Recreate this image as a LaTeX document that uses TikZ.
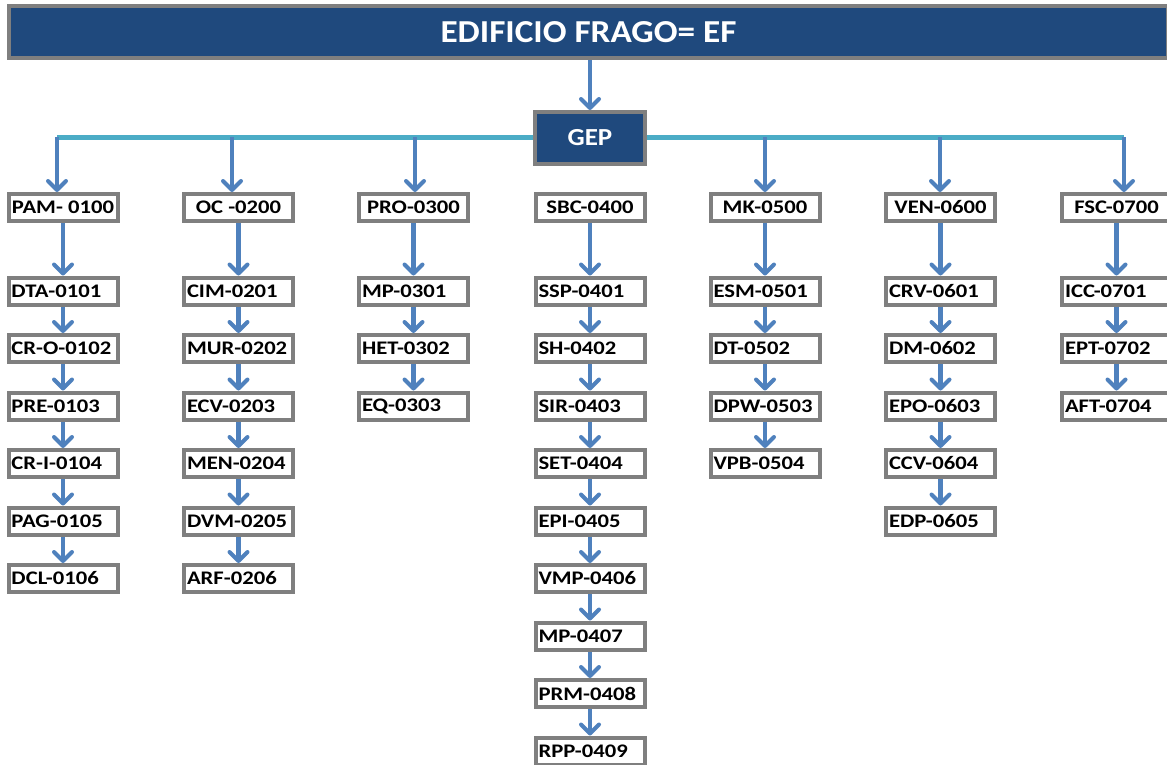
\documentclass[tikz,border=0pt]{standalone}
\usepackage{fontspec}
\setmainfont{Carlito}[FakeStretch=1.1]
\newfontfamily\boxfont{Carlito}[FakeStretch=1.18]
\usetikzlibrary{arrows.meta}

\definecolor{framegray}{HTML}{7F7F7F}
\definecolor{navy}{HTML}{1F497D}
\definecolor{arrowblue}{HTML}{4F81BD}
\definecolor{buscyan}{HTML}{4BACC6}

\tikzset{
  headbox/.style={rectangle, draw=framegray, line width=4pt, fill=white,
    minimum width=109pt, minimum height=27pt, inner sep=0pt,
    font=\boxfont\fontsize{19.2}{21}\selectfont\bfseries},
  subbox/.style={headbox, text width=103pt, align=left, inner xsep=3pt},
  navybox/.style={rectangle, draw=framegray, line width=4pt, fill=navy,
    text=white, inner sep=0pt},
  arr/.style={draw=arrowblue, line width=4.5pt,
    -{Straight Barb[length=9pt,width=18pt,line width=4pt,round]}},
  bus/.style={draw=buscyan, line width=5pt}
}

% one column: its head box, then the chain of sub-boxes below it
\newcommand\colchain[4]{%
  \node[headbox] (#1-0) at (#2,207.5) {#3};
  \foreach \lbl [count=\k, remember=\k as \prev (initially 0)] in {#4} {
    \node[subbox] (#1-\k) at (#2,{291+(\k-1)*57.5}) {\lbl};
    \draw[arr] (#1-\prev.south) -- (#1-\k.north);
  }%
}

\begin{document}
\begin{tikzpicture}[x=1pt,y=-1pt]
\useasboundingbox (0,0) rectangle (1167,764);

% title bar and the group box under it
\node[navybox, minimum width=1159pt, minimum height=52pt,
  font=\fontsize{32}{36}\selectfont\bfseries] (title) at (588.5,32) {EDIFICIO FRAGO= EF};

% horizontal bus behind the group box
\coordinate (t1) at (57,137);
\coordinate (t2) at (232,137);
\coordinate (t3) at (415,137);
\coordinate (t5) at (765,137);
\coordinate (t6) at (940,137);
\coordinate (t7) at (1124,137);
\draw[bus] (t1) -- (t7);

\node[navybox, minimum width=110pt, minimum height=52pt,
  font=\fontsize{24.5}{28}\selectfont\bfseries] (gep) at (590,138) {GEP};
\draw[arr] (title.south -| gep.north) -- (gep.north);

% the seven columns
\colchain{c1}{63}{PAM- 0100}{DTA-0101,CR-O-0102,PRE-0103,CR-I-0104,PAG-0105,DCL-0106}
\colchain{c2}{238.5}{OC -0200}{CIM-0201,MUR-0202,ECV-0203,MEN-0204,DVM-0205,ARF-0206}
\colchain{c3}{413.5}{PRO-0300}{MP-0301,HET-0302,EQ-0303}
\colchain{c4}{590}{SBC-0400}{SSP-0401,SH-0402,SIR-0403,SET-0404,EPI-0405,VMP-0406,MP-0407,PRM-0408,RPP-0409}
\colchain{c5}{765}{MK-0500}{ESM-0501,DT-0502,DPW-0503,VPB-0504}
\colchain{c6}{940.5}{VEN-0600}{CRV-0601,DM-0602,EPO-0603,CCV-0604,EDP-0605}
\colchain{c7}{1116.5}{FSC-0700}{ICC-0701,EPT-0702,AFT-0704}

% drops from the bus to the column heads
\foreach \c in {1,2,3,5,6,7}
  \draw[arr] (t\c) -- (t\c |- c\c-0.north);
\end{tikzpicture}
\end{document}
